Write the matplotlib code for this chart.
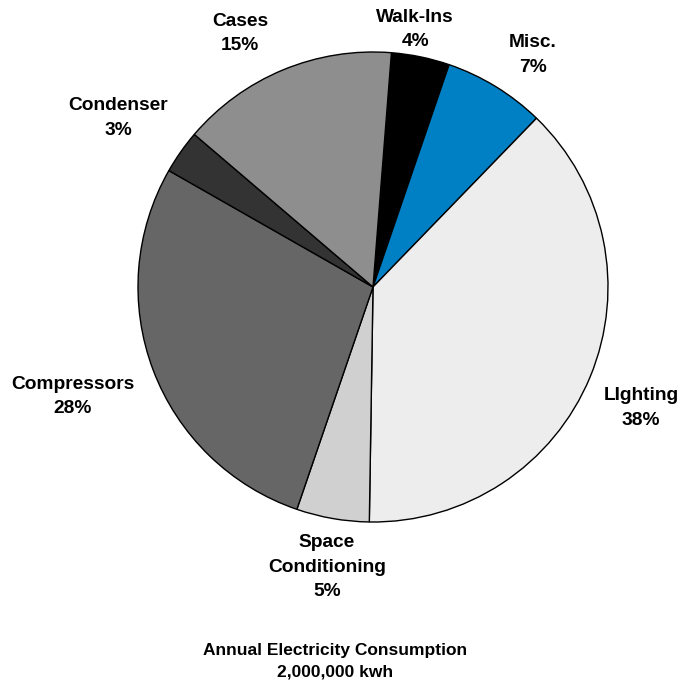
import matplotlib
matplotlib.use("Agg")
import matplotlib.pyplot as plt

# electricity end uses, clockwise from the top
categories = ["Walk-Ins", "Misc.", "LIghting", "Space\nConditioning",
              "Compressors", "Condenser", "Cases"]
shares = [4, 7, 38, 5, 28, 3, 15]
colors = ["#000000", "#0080C4", "#EDEDED", "#D0D0D0",
          "#666666", "#333333", "#8E8E8E"]

# label anchor points in units of the pie radius
label_pos = [(0.179, 1.096), (0.681, 0.987), (1.140, -0.515), (-0.196, -1.192),
             (-1.277, -0.466), (-1.085, 0.719), (-0.566, 1.077)]

plt.rcParams['font.family'] = ['Liberation Sans', 'DejaVu Sans']

fig = plt.figure(figsize=(6.81, 6.83), dpi=100)
ax = fig.add_axes([0, 0, 1, 1])

ax.pie(shares, colors=colors, startangle=85.5, counterclock=False,
       radius=1.0, wedgeprops=dict(edgecolor="black", linewidth=1.0))

for name, val, (x, y) in zip(categories, shares, label_pos):
    ax.text(x, y, f"{name}\n{val}%", ha="center", va="center",
            fontsize=13.8, fontweight="bold", linespacing=1.55)

ax.set_xlim(-373 / 235, (681 - 373) / 235)
ax.set_ylim(-396 / 235, (683 - 396) / 235)
ax.set_aspect("auto")
ax.axis("off")

fig.text(0.492, 0.032, "Annual Electricity Consumption\n2,000,000 kwh",
         ha="center", va="center", fontsize=12.5, fontweight="bold",
         linespacing=1.5)

fig.savefig("out.png", dpi=100)
